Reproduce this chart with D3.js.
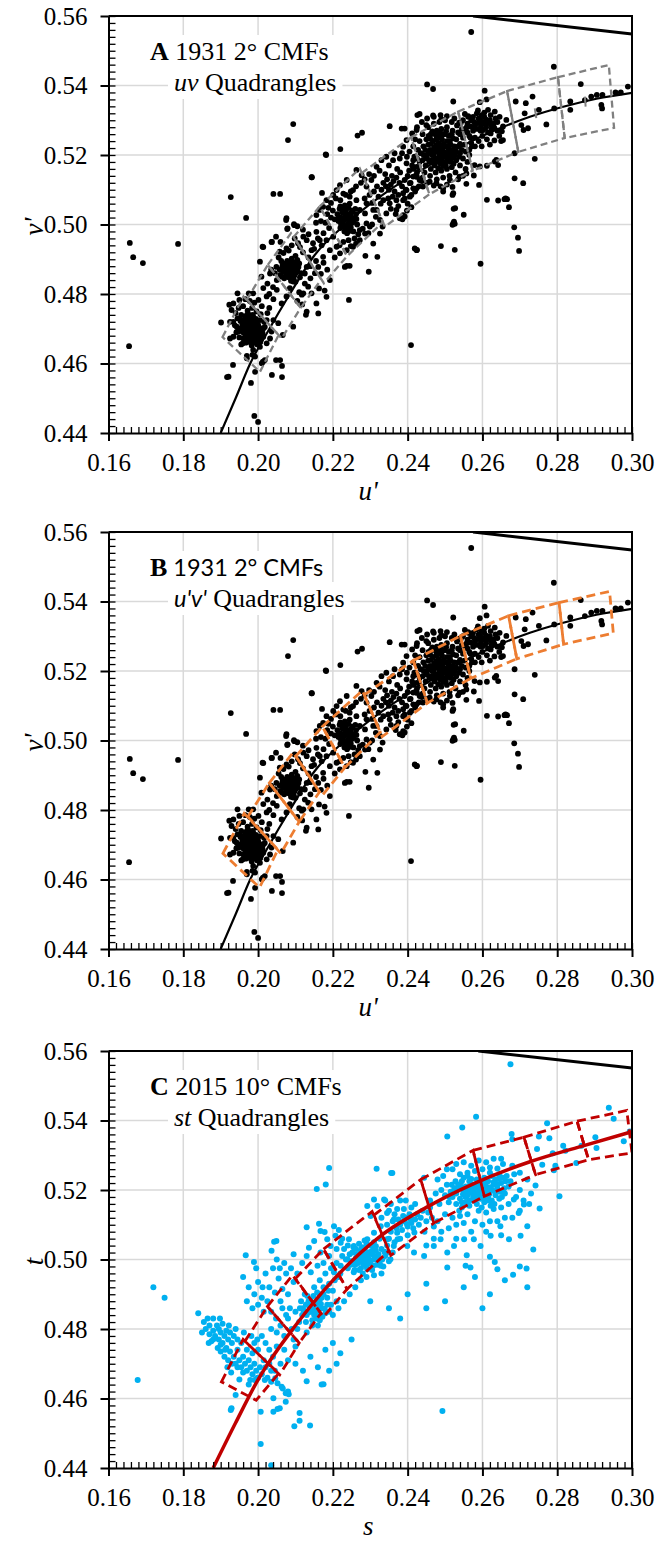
<!DOCTYPE html>
<html>
<head>
<meta charset="utf-8">
<script src="https://cdn.jsdelivr.net/npm/d3@7"></script>
<style>
  body { margin: 0; background: #fff; }
  svg { display: block; }
  svg text { font-family: "Liberation Serif", "Times New Roman", serif; }
</style>
</head>
<body>
<svg id="chart" width="658" height="1546"></svg>
<script>
// ---- data ----
const xTicks = [0.16, 0.18, 0.20, 0.22, 0.24, 0.26, 0.28, 0.30];
const yTicks = [0.44, 0.46, 0.48, 0.50, 0.52, 0.54, 0.56];

const planckUV = [[0.1900,0.4400],[0.1940,0.4500],[0.1979,0.4600],[0.2025,0.4690],[0.2085,0.4800],
  [0.2150,0.4910],[0.2250,0.5015],[0.2350,0.5098],[0.2450,0.5165],[0.2550,0.5228],[0.2656,0.5281],
  [0.2727,0.5310],[0.2816,0.5339],[0.2905,0.5362],[0.3000,0.5379]];
const planckST = [[0.1880,0.4400],[0.1940,0.4530],[0.2002,0.4658],[0.2100,0.4810],[0.2200,0.4940],
  [0.2328,0.5068],[0.2450,0.5150],[0.2580,0.5220],[0.2729,0.5282],[0.2862,0.5325],[0.3000,0.5368]];

// spectrum locus segment at the top right
const locusUV = [[0.2575,0.5600],[0.3000,0.5548]];
const locusST = [[0.2589,0.5600],[0.3000,0.5551]];

// short centre marks seen in panel A (2500 K, 2200 K)
const centreTicksA = [[[0.2740,0.5334],[0.2744,0.5306]], [[0.2874,0.5368],[0.2876,0.5339]]];

// quadrangles, 6500K ... 2200K, four corners each
const quadsA = [
  [[0.1905,0.4676],[0.1961,0.4793],[0.2055,0.4682],[0.2005,0.4576]],
  [[0.1970,0.4784],[0.2026,0.4884],[0.2114,0.4760],[0.2063,0.4672]],
  [[0.2026,0.4884],[0.2088,0.4975],[0.2169,0.4842],[0.2114,0.4760]],
  [[0.2095,0.4964],[0.2165,0.5052],[0.2238,0.4909],[0.2176,0.4831]],
  [[0.2165,0.5052],[0.2272,0.5161],[0.2334,0.5007],[0.2238,0.4909]],
  [[0.2277,0.5148],[0.2409,0.5251],[0.2458,0.5087],[0.2339,0.4994]],
  [[0.2409,0.5251],[0.2535,0.5325],[0.2574,0.5155],[0.2458,0.5087]],
  [[0.2535,0.5325],[0.2666,0.5384],[0.2696,0.5209],[0.2574,0.5155]],
  [[0.2666,0.5384],[0.2802,0.5424],[0.2820,0.5249],[0.2696,0.5209]],
  [[0.2802,0.5424],[0.2938,0.5459],[0.2952,0.5278],[0.2820,0.5249]]
];
const quadsB = [
  [[0.1906,0.4675],[0.1963,0.4790],[0.2053,0.4686],[0.2004,0.4577]],
  [[0.1973,0.4781],[0.2030,0.4878],[0.2110,0.4766],[0.2061,0.4675]],
  [[0.2030,0.4878],[0.2094,0.4966],[0.2164,0.4852],[0.2110,0.4766]],
  [[0.2101,0.4955],[0.2172,0.5040],[0.2232,0.4922],[0.2171,0.4841]],
  [[0.2172,0.5040],[0.2279,0.5144],[0.2327,0.5024],[0.2232,0.4922]],
  [[0.2284,0.5131],[0.2415,0.5230],[0.2453,0.5108],[0.2332,0.5011]],
  [[0.2415,0.5230],[0.2541,0.5301],[0.2569,0.5179],[0.2453,0.5108]],
  [[0.2541,0.5301],[0.2670,0.5359],[0.2692,0.5235],[0.2569,0.5179]],
  [[0.2670,0.5359],[0.2805,0.5397],[0.2817,0.5277],[0.2692,0.5235]],
  [[0.2805,0.5397],[0.2940,0.5429],[0.2950,0.5309],[0.2817,0.5277]]
];
const quadsC = [
  [[0.1902,0.4648],[0.1960,0.4770],[0.2055,0.4672],[0.1995,0.4595]],
  [[0.1965,0.4765],[0.2025,0.4865],[0.2110,0.4760],[0.2058,0.4668]],
  [[0.2025,0.4865],[0.2092,0.4955],[0.2168,0.4845],[0.2110,0.4760]],
  [[0.2100,0.4945],[0.2175,0.5030],[0.2238,0.4915],[0.2175,0.4835]],
  [[0.2175,0.5030],[0.2305,0.5138],[0.2350,0.5025],[0.2238,0.4915]],
  [[0.2310,0.5128],[0.2435,0.5230],[0.2470,0.5105],[0.2355,0.5012]],
  [[0.2435,0.5230],[0.2575,0.5314],[0.2605,0.5182],[0.2470,0.5105]],
  [[0.2575,0.5314],[0.2711,0.5352],[0.2742,0.5244],[0.2605,0.5182]],
  [[0.2711,0.5352],[0.2853,0.5398],[0.2884,0.5287],[0.2742,0.5244]],
  [[0.2853,0.5398],[0.2986,0.5429],[0.3000,0.5307],[0.2884,0.5287]]
];

// light-source chromaticities, 1931 2° (u', v') — panels A and B
const ptsUV = [
  [0.1657,0.4947],[0.1666,0.4906],[0.1692,0.4889],[0.1655,0.4650],[0.1786,0.4944],
  [0.1927,0.5079],[0.1968,0.5019],[0.2080,0.5243],[0.2094,0.5289],[0.2182,0.5200],[0.2144,0.5136],
  [0.2041,0.5088],[0.2059,0.5088],[0.2171,0.5091],[0.2075,0.5013],[0.2078,0.4987],[0.2096,0.5001],
  [0.2037,0.4950],[0.2014,0.4935],
  [0.1990,0.4449],[0.2000,0.4432],[0.1917,0.4561],[0.1921,0.4562],[0.1933,0.4596],[0.1981,0.4544],
  [0.1992,0.4576],[0.2010,0.4601],[0.2013,0.4605],[0.2018,0.4610],[0.2037,0.4567],[0.2048,0.4610],
  [0.2059,0.4610],[0.2064,0.4593],[0.2064,0.4561],[0.1970,0.4622],[0.1985,0.4625],
  [0.1901,0.4718],[0.1925,0.4720],[0.1929,0.4754],[0.1923,0.4769],[0.1934,0.4773],[0.1945,0.4802],
  [0.1950,0.4783],[0.1966,0.4785],[0.1975,0.4802],[0.1987,0.4802],[0.2001,0.4783],[0.2014,0.4817],
  [0.2023,0.4793],[0.2041,0.4785],[0.2050,0.4812],[0.2063,0.4773],[0.2076,0.4793],[0.2085,0.4817],
  [0.2094,0.4836],[0.2117,0.4798],[0.2130,0.4749],[0.2128,0.4740],[0.2094,0.4706],[0.2066,0.4682],
  [0.2041,0.4725],[0.2054,0.4716],[0.2023,0.4725],[0.2014,0.4701],[0.1996,0.4716],[0.1987,0.4735],
  [0.1970,0.4740],[0.1952,0.4730],[0.1943,0.4706],[0.1934,0.4677],[0.1948,0.4692],[0.1961,0.4672],
  [0.1975,0.4701],[0.1987,0.4668],[0.2001,0.4668],[0.2014,0.4677],[0.2023,0.4658],[0.2036,0.4692],
  [0.2032,0.4672],[0.2005,0.4648],[0.1934,0.4720],[0.1959,0.4658],[0.1925,0.4672],[0.1970,0.4615],
  [0.1987,0.4639],[0.1992,0.4620],
  [0.1962,0.4700],[0.1968,0.4690],[0.1975,0.4685],[0.1980,0.4695],[0.1985,0.4688],[0.1990,0.4680],
  [0.1972,0.4675],[0.1978,0.4670],[0.1984,0.4676],[0.1993,0.4672],[0.1998,0.4685],[0.1966,0.4682],
  [0.1970,0.4710],[0.1980,0.4712],[0.1990,0.4705],[0.1997,0.4698],[0.2005,0.4690],[0.2003,0.4678],
  [0.1960,0.4690],[0.1976,0.4662],[0.1988,0.4660],[0.1995,0.4662],[0.2008,0.4670],[0.1982,0.4720],
  [0.1958,0.4712],[0.1964,0.4722],[0.1974,0.4728],[0.2010,0.4700],[0.2000,0.4712],[0.1986,0.4740],
  [0.1994,0.4728],[0.2016,0.4720],[0.1955,0.4740],[0.1945,0.4730],[0.1940,0.4745],[0.1948,0.4760],
  [0.1960,0.4765],[0.1972,0.4752],[0.1984,0.4760],[0.1996,0.4750],[0.2007,0.4742],[0.2025,0.4745],
  [0.2030,0.4760],[0.2010,0.4765],[0.1990,0.4775],[0.1978,0.4780],[0.1938,0.4710],[0.1950,0.4675],
  [0.1942,0.4690],[0.1955,0.4655],
  [0.1963,0.4695],[0.1971,0.4697],[0.1979,0.4703],[0.1987,0.4699],[0.1994,0.4692],[0.2001,0.4684],
  [0.1969,0.4667],[0.1981,0.4682],[0.1989,0.4668],[0.1996,0.4676],[0.2006,0.4662],[0.1974,0.4718],
  [0.1985,0.4727],[0.1992,0.4714],[0.2002,0.4705],[0.2012,0.4688],[0.1957,0.4703],[0.1962,0.4672],
  [0.1967,0.4660],[0.1983,0.4652],[0.1998,0.4655],[0.2011,0.4678],[0.1977,0.4740],[0.1966,0.4733],
  [0.1953,0.4722],[0.2005,0.4725],[0.2018,0.4705],[0.1947,0.4700],[0.1979,0.4692],[0.1991,0.4688],
  [0.2005,0.4893],[0.2012,0.4936],[0.2036,0.4950],[0.2058,0.4922],[0.2076,0.4931],[0.2098,0.4960],
  [0.2107,0.4946],[0.2121,0.4965],[0.2130,0.4955],[0.2076,0.5018],[0.2097,0.4998],[0.2079,0.4989],
  [0.2156,0.4979],[0.2165,0.4955],[0.2147,0.4946],[0.2143,0.4926],[0.2174,0.4907],[0.2161,0.4878],
  [0.2130,0.4878],[0.2125,0.4859],[0.2049,0.4878],[0.2032,0.4859],[0.2009,0.4850],
  [0.2065,0.4880],[0.2072,0.4872],[0.2080,0.4885],[0.2088,0.4878],[0.2095,0.4868],[0.2085,0.4862],
  [0.2075,0.4858],[0.2068,0.4866],[0.2092,0.4890],[0.2100,0.4880],[0.2105,0.4870],[0.2098,0.4855],
  [0.2082,0.4848],[0.2070,0.4845],[0.2060,0.4855],[0.2078,0.4895],[0.2090,0.4902],[0.2110,0.4888],
  [0.2115,0.4860],[0.2062,0.4895],[0.2085,0.4875],[0.2073,0.4888],[0.2095,0.4845],[0.2105,0.4898],
  [0.2058,0.4870],[0.2088,0.4838],[0.2100,0.4835],[0.2112,0.4848],
  [0.2078,0.4870],[0.2083,0.4882],[0.2090,0.4868],[0.2096,0.4875],[0.2070,0.4878],[0.2081,0.4855],
  [0.2093,0.4858],[0.2102,0.4862],[0.2066,0.4887],[0.2087,0.4893],[0.2099,0.4892],[0.2076,0.4865],
  [0.2108,0.4878],[0.2064,0.4850],[0.2092,0.4850],
  [0.2192,0.4840],[0.2163,0.4816],[0.2143,0.4802],[0.2134,0.4821],[0.2121,0.4802],[0.2243,0.4783],
  [0.2296,0.4864],[0.2319,0.4907],[0.2287,0.4910],[0.2237,0.4881],[0.2245,0.4881],[0.2232,0.4878],
  [0.2156,0.4773],[0.2183,0.4792],[0.2161,0.4744],
  [0.2040,0.4820],[0.2050,0.4840],[0.2030,0.4800],[0.2100,0.4910],[0.2120,0.4920],[0.2135,0.4905],
  [0.2150,0.4930],[0.2160,0.4960],[0.2175,0.4975],[0.2190,0.4990],[0.2180,0.5005],[0.2195,0.5020],
  [0.2200,0.5040],[0.2185,0.5030],[0.2140,0.4880],[0.2155,0.4895],[0.2170,0.4940],[0.2045,0.4860],
  [0.2025,0.4830],[0.2035,0.4870],
  [0.2055,0.4905],[0.2068,0.4918],[0.2082,0.4925],[0.2060,0.4950],[0.2090,0.4940],[0.2112,0.4935],
  [0.2120,0.4985],[0.2135,0.4972],[0.2105,0.4995],[0.2048,0.4965],
  [0.2110,0.4805],[0.2125,0.4830],[0.2140,0.4845],[0.2152,0.4860],[0.2168,0.4858],[0.2105,0.4780],
  [0.2118,0.4770],[0.2175,0.4890],[0.2185,0.4870],[0.2178,0.4810],
  [0.2155,0.5005],[0.2168,0.5010],[0.2188,0.5048],[0.2195,0.5062],[0.2208,0.5075],[0.2220,0.5070],
  [0.2235,0.5085],[0.2248,0.5095],[0.2262,0.5110],[0.2275,0.5120],[0.2285,0.5130],[0.2297,0.5145],
  [0.2205,0.4905],[0.2218,0.4940],[0.2228,0.4950],[0.2242,0.4955],[0.2258,0.4960],[0.2268,0.4972],
  [0.2280,0.4988],[0.2295,0.4975],[0.2305,0.5000],[0.2315,0.5022],[0.2262,0.4945],[0.2248,0.4938],
  [0.2156,0.5027],[0.2165,0.5042],[0.2174,0.5051],[0.2183,0.5070],[0.2201,0.5085],[0.2210,0.5099],
  [0.2228,0.5089],[0.2245,0.5080],[0.2254,0.5099],[0.2263,0.5070],[0.2272,0.5042],[0.2286,0.5032],
  [0.2290,0.5061],[0.2308,0.5042],[0.2326,0.5013],[0.2299,0.4994],[0.2286,0.4974],[0.2272,0.4955],
  [0.2254,0.4936],[0.2237,0.4926],[0.2219,0.4917],[0.2192,0.4926],[0.2183,0.4955],[0.2201,0.4965],
  [0.2210,0.4936],[0.2272,0.4984],[0.2290,0.5003],
  [0.2215,0.5010],[0.2222,0.5020],[0.2230,0.5012],[0.2238,0.5025],[0.2245,0.5015],[0.2252,0.5005],
  [0.2240,0.5000],[0.2228,0.4995],[0.2220,0.4990],[0.2235,0.4985],[0.2248,0.4992],[0.2258,0.5018],
  [0.2262,0.5030],[0.2250,0.5035],[0.2235,0.5040],[0.2225,0.5035],[0.2212,0.5030],[0.2242,0.5048],
  [0.2255,0.4980],[0.2265,0.5000],[0.2218,0.5045],[0.2232,0.5055],[0.2245,0.5060],[0.2260,0.5045],
  [0.2205,0.5015],[0.2238,0.4975],[0.2226,0.5005],[0.2244,0.5030],
  [0.2228,0.5012],[0.2236,0.5018],[0.2243,0.5008],[0.2233,0.5028],[0.2222,0.5000],[0.2249,0.5022],
  [0.2256,0.5010],[0.2239,0.4992],[0.2216,0.5022],[0.2229,0.5042],[0.2252,0.5040],[0.2246,0.4982],
  [0.2231,0.4980],[0.2263,0.5016],[0.2220,0.5052],
  [0.2285,0.5075],[0.2298,0.5085],[0.2310,0.5095],[0.2322,0.5080],[0.2318,0.5110],[0.2330,0.5100],
  [0.2305,0.5062],[0.2328,0.5060],[0.2348,0.5075],[0.2360,0.5080],[0.2375,0.5085],[0.2392,0.5075],
  [0.2400,0.5060],[0.2410,0.5085],[0.2420,0.5095],[0.2430,0.5110],[0.2438,0.5125],[0.2412,0.5170],
  [0.2398,0.5195],[0.2385,0.5205],[0.2365,0.5205],[0.2350,0.5170],[0.2325,0.5155],[0.2310,0.5140],
  [0.2355,0.5045],[0.2368,0.5030],[0.2398,0.5040],[0.2410,0.5050],
  [0.2290,0.5109],[0.2303,0.5128],[0.2317,0.5166],[0.2330,0.5185],[0.2343,0.5195],[0.2361,0.5185],
  [0.2379,0.5190],[0.2397,0.5176],[0.2415,0.5185],[0.2424,0.5166],[0.2425,0.5137],[0.2415,0.5104],
  [0.2406,0.5080],[0.2388,0.5070],[0.2370,0.5070],[0.2352,0.5061],[0.2335,0.5070],[0.2317,0.5042],
  [0.2343,0.5032],[0.2370,0.5042],[0.2388,0.5027],[0.2386,0.5020],[0.2333,0.4994],[0.2375,0.5053],
  [0.2424,0.5104],[0.2419,0.4931],[0.2424,0.4926],
  [0.2335,0.5120],[0.2345,0.5130],[0.2355,0.5115],[0.2362,0.5125],[0.2370,0.5135],[0.2378,0.5120],
  [0.2385,0.5110],[0.2392,0.5128],[0.2400,0.5140],[0.2350,0.5100],[0.2365,0.5095],[0.2380,0.5150],
  [0.2340,0.5145],[0.2372,0.5160],[0.2395,0.5100],[0.2408,0.5120],[0.2358,0.5140],[0.2388,0.5090],
  [0.2342,0.5110],[0.2404,0.5155],
  [0.2181,0.5202],[0.2220,0.5217],[0.2266,0.5256],[0.2278,0.5264],[0.2352,0.5283],[0.2384,0.5276],
  [0.2392,0.5276],[0.2426,0.5315],[0.2143,0.5136],[0.2263,0.5157],[0.2277,0.5142],[0.2237,0.5128],
  [0.2219,0.5113],[0.2326,0.4974],[0.2308,0.4945],
  [0.2379,0.5018],[0.2386,0.5015],[0.2392,0.5023],[0.2425,0.4927],[0.2489,0.4938],[0.2526,0.4927],
  [0.2522,0.5004],[0.2524,0.5008],[0.2520,0.4999],[0.2526,0.5002],[0.2523,0.5045],[0.2527,0.5047],
  [0.2550,0.5028],[0.2595,0.4887],[0.2612,0.5071],[0.2642,0.5069],[0.2662,0.5075],[0.2666,0.5073],
  [0.2659,0.5073],[0.2671,0.5050],[0.2686,0.5133],[0.2709,0.5119],[0.2685,0.4992],[0.2695,0.4962],
  [0.2698,0.4924],[0.2740,0.5189],[0.2591,0.5114],[0.2577,0.5141],[0.2557,0.5117],[0.2520,0.5085],
  [0.2633,0.5181],[0.2642,0.5171],[0.2637,0.5186],[0.2612,0.5169],[0.2593,0.5167],[0.2579,0.5171],
  [0.2557,0.5147],[0.2539,0.5138],[0.2513,0.5128],[0.2495,0.5104],[0.2477,0.5119],[0.2459,0.5123],
  [0.2441,0.5109],[0.2432,0.5128],[0.2415,0.5138],[0.2406,0.5119],[0.2397,0.5099],[0.2522,0.5090],
  [0.2495,0.5095],[0.2409,0.4653],[0.2570,0.5554],
  [0.2452,0.5403],[0.2468,0.5390],[0.2522,0.5354],[0.2593,0.5352],[0.2606,0.5385],[0.2611,0.5360],
  [0.2432,0.5318],[0.2468,0.5314],[0.2490,0.5303],[0.2553,0.5318],[0.2562,0.5312],[0.2538,0.5293],
  [0.2615,0.5330],[0.2633,0.5325],[0.2646,0.5310],[0.2664,0.5301],[0.2655,0.5282],[0.2397,0.5243],
  [0.2388,0.5224],[0.2424,0.5272],[0.2450,0.5286],[0.2791,0.5454],[0.2863,0.5404],
  [0.2689,0.5354],[0.2716,0.5349],[0.2734,0.5368],[0.2713,0.5320],[0.2751,0.5330],[0.2771,0.5288],
  [0.2792,0.5334],[0.2835,0.5354],[0.2835,0.5330],[0.2874,0.5358],[0.2891,0.5368],[0.2906,0.5373],
  [0.2921,0.5373],[0.2918,0.5344],[0.2920,0.5334],[0.2956,0.5380],[0.2970,0.5380],[0.2989,0.5397],
  [0.2704,0.5286],[0.2722,0.5277],[0.2710,0.5272],[0.2686,0.5205],[0.2655,0.5243],
  [0.2560,0.5290],[0.2570,0.5300],[0.2580,0.5285],[0.2590,0.5305],[0.2600,0.5295],[0.2610,0.5280],
  [0.2620,0.5300],[0.2630,0.5290],[0.2595,0.5270],[0.2605,0.5310],[0.2615,0.5265],[0.2585,0.5320],
  [0.2575,0.5270],[0.2625,0.5275],[0.2640,0.5270],[0.2600,0.5255],[0.2565,0.5255],[0.2555,0.5270],
  [0.2635,0.5305],[0.2590,0.5240],[0.2612,0.5245],[0.2580,0.5250],[0.2548,0.5300],[0.2645,0.5255],
  [0.2620,0.5230],[0.2598,0.5225],[0.2570,0.5235],
  [0.2588,0.5292],[0.2596,0.5282],[0.2606,0.5290],[0.2616,0.5292],[0.2624,0.5285],[0.2578,0.5295],
  [0.2593,0.5300],[0.2610,0.5302],[0.2602,0.5272],[0.2585,0.5275],[0.2622,0.5262],[0.2632,0.5278],
  [0.2568,0.5282],[0.2598,0.5315],[0.2562,0.5310],
  [0.2575,0.5310],[0.2588,0.5328],[0.2605,0.5322],[0.2622,0.5315],[0.2640,0.5295],[0.2652,0.5268],
  [0.2650,0.5240],[0.2632,0.5242],[0.2580,0.5225],[0.2565,0.5215],
  [0.2470,0.5210],[0.2480,0.5220],[0.2490,0.5215],[0.2500,0.5225],[0.2510,0.5210],[0.2495,0.5200],
  [0.2485,0.5195],[0.2475,0.5190],[0.2465,0.5200],[0.2460,0.5215],[0.2505,0.5240],[0.2515,0.5230],
  [0.2520,0.5215],[0.2525,0.5200],[0.2512,0.5190],[0.2500,0.5180],[0.2488,0.5175],[0.2472,0.5170],
  [0.2458,0.5180],[0.2450,0.5195],[0.2455,0.5230],[0.2468,0.5240],[0.2480,0.5250],[0.2492,0.5245],
  [0.2498,0.5260],[0.2510,0.5255],[0.2530,0.5245],[0.2535,0.5225],[0.2540,0.5205],[0.2530,0.5185],
  [0.2518,0.5165],[0.2505,0.5160],[0.2490,0.5155],[0.2475,0.5150],[0.2462,0.5160],[0.2448,0.5170],
  [0.2440,0.5185],[0.2435,0.5205],[0.2442,0.5225],[0.2450,0.5245],[0.2462,0.5260],[0.2478,0.5270],
  [0.2490,0.5275],[0.2505,0.5280],[0.2520,0.5270],[0.2535,0.5265],[0.2548,0.5250],[0.2552,0.5230],
  [0.2555,0.5210],[0.2548,0.5190],[0.2540,0.5170],[0.2528,0.5150],[0.2512,0.5140],[0.2495,0.5135],
  [0.2478,0.5130],[0.2460,0.5140],[0.2445,0.5150],[0.2430,0.5165],[0.2425,0.5190],[0.2428,0.5215],
  [0.2432,0.5240],[0.2440,0.5260],[0.2455,0.5280],[0.2470,0.5290],[0.2485,0.5295],[0.2500,0.5300],
  [0.2518,0.5295],[0.2532,0.5285],[0.2545,0.5275],[0.2560,0.5265],[0.2482,0.5208],[0.2496,0.5232],
  [0.2508,0.5198],[0.2476,0.5228],[0.2522,0.5248],[0.2465,0.5185],[0.2502,0.5170],[0.2488,0.5262],
  [0.2515,0.5180],[0.2456,0.5255],
  [0.2470,0.5200],[0.2478,0.5212],[0.2487,0.5202],[0.2493,0.5220],[0.2503,0.5205],[0.2508,0.5220],
  [0.2517,0.5205],[0.2483,0.5235],[0.2471,0.5222],[0.2462,0.5232],[0.2500,0.5195],[0.2490,0.5185],
  [0.2480,0.5180],[0.2468,0.5178],[0.2455,0.5205],[0.2447,0.5215],[0.2513,0.5240],[0.2525,0.5225],
  [0.2530,0.5210],[0.2522,0.5192],[0.2507,0.5183],[0.2495,0.5168],[0.2482,0.5162],[0.2460,0.5248],
  [0.2475,0.5258],[0.2490,0.5255],[0.2503,0.5268],[0.2518,0.5260],[0.2540,0.5232],[0.2545,0.5215],
  [0.2537,0.5195],[0.2523,0.5175],[0.2496,0.5210],[0.2486,0.5225],[0.2512,0.5228],[0.2476,0.5245],
  [0.2452,0.5190],[0.2443,0.5200],[0.2466,0.5268],[0.2540,0.5260],
  [0.2405,0.5210],[0.2415,0.5225],[0.2420,0.5245],[0.2412,0.5262],[0.2425,0.5280],[0.2438,0.5295],
  [0.2452,0.5305],[0.2470,0.5310],[0.2488,0.5315],[0.2505,0.5312],[0.2525,0.5305],[0.2542,0.5292],
  [0.2558,0.5280],[0.2568,0.5250],[0.2572,0.5225],[0.2565,0.5200],[0.2560,0.5180],[0.2555,0.5160],
  [0.2548,0.5140],[0.2535,0.5130],[0.2520,0.5108],[0.2505,0.5115],[0.2488,0.5110],[0.2470,0.5112],
  [0.2452,0.5120],[0.2440,0.5135],[0.2425,0.5150],[0.2415,0.5160],[0.2432,0.5180],[0.2418,0.5195]
];

// light-source chromaticities, 2015 10° (s, t) — panel C
const ptsST = [
  [0.1720,0.4920],[0.1750,0.4890],[0.1678,0.4653],
  [0.1840,0.4845],[0.1855,0.4820],[0.1860,0.4800],[0.1870,0.4810],[0.1880,0.4795],[0.1890,0.4810],
  [0.1885,0.4780],[0.1895,0.4770],[0.1900,0.4790],[0.1910,0.4780],[0.1905,0.4760],[0.1915,0.4745],
  [0.1920,0.4770],[0.1930,0.4760],[0.1925,0.4735],[0.1935,0.4720],[0.1945,0.4740],[0.1950,0.4710],
  [0.1940,0.4700],[0.1955,0.4690],[0.1960,0.4720],[0.1965,0.4700],[0.1970,0.4680],[0.1975,0.4710],
  [0.1980,0.4690],[0.1985,0.4670],[0.1990,0.4700],[0.1995,0.4680],[0.2000,0.4660],[0.2005,0.4690],
  [0.2010,0.4670],[0.2015,0.4710],[0.2020,0.4690],[0.2025,0.4660],[0.2030,0.4700],[0.2035,0.4680],
  [0.1880,0.4770],[0.1870,0.4785],[0.1900,0.4735],[0.1910,0.4720],[0.1920,0.4710],
  [0.1865,0.4830],[0.1875,0.4765],[0.1895,0.4800],[0.1905,0.4815],[0.1915,0.4795],[0.1925,0.4790],
  [0.1935,0.4780],[0.1945,0.4770],[0.1955,0.4760],[0.1930,0.4700],[0.1945,0.4690],[0.1960,0.4675],
  [0.1970,0.4740],[0.1985,0.4730],[0.1900,0.4755],[0.1912,0.4740],
  [0.1850,0.4790],[0.1868,0.4760],[0.1892,0.4745],[0.1918,0.4690],[0.1928,0.4675],[0.1950,0.4655],
  [0.1975,0.4640],[0.1880,0.4830],[0.1898,0.4830],[0.1922,0.4810],[0.1940,0.4800],[0.1962,0.4790],
  [0.1982,0.4780],[0.1998,0.4770],
  [0.1960,0.4950],[0.1975,0.4920],[0.1990,0.4900],[0.2000,0.4935],[0.2010,0.4890],[0.2020,0.4960],
  [0.2030,0.4920],[0.2045,0.4905],[0.2040,0.4975],[0.2055,0.4945],[0.2065,0.4915],[0.2060,0.4880],
  [0.2075,0.4960],[0.2080,0.4900],[0.1995,0.4975],[0.2050,0.5000],
  [0.1970,0.4880],[0.1985,0.4860],[0.2000,0.4870],[0.2015,0.4850],[0.2025,0.4880],[0.2035,0.4850],
  [0.2048,0.4830],[0.2012,0.4920],[0.2058,0.4975],[0.2070,0.4990],[0.2088,0.4975],[0.2095,0.4935],
  [0.2105,0.4960],[0.2118,0.4990],[0.2130,0.5010],[0.2095,0.5015],
  [0.1940,0.4610],[0.1929,0.4572],[0.1927,0.4567],[0.1979,0.4653],[0.1991,0.4653],[0.2007,0.4562],
  [0.2007,0.4469],[0.2035,0.4408],[0.2041,0.4601],[0.2041,0.4562],[0.2058,0.4572],[0.2052,0.4570],
  [0.2074,0.4591],[0.2080,0.4620],[0.2063,0.4634],[0.2066,0.4629],[0.2097,0.4520],[0.2111,0.4558],
  [0.2111,0.4536],[0.2139,0.4522],[0.2175,0.4641],[0.2493,0.4564],[0.2052,0.4644],[0.2035,0.4648],
  [0.2018,0.4653],[0.1996,0.4658],[0.2046,0.4658],[0.2074,0.4615],[0.2082,0.4612],
  [0.2050,0.4790],[0.2060,0.4810],[0.2070,0.4780],[0.2080,0.4830],[0.2090,0.4800],[0.2100,0.4850],
  [0.2110,0.4820],[0.2120,0.4860],[0.2130,0.4840],[0.2140,0.4870],[0.2150,0.4850],[0.2160,0.4880],
  [0.2170,0.4860],[0.2155,0.4830],[0.2145,0.4810],[0.2135,0.4880],[0.2125,0.4900],[0.2165,0.4900],
  [0.2175,0.4920],[0.2185,0.4890],[0.2195,0.4870],[0.2180,0.4845],[0.2200,0.4910],[0.2210,0.4880],
  [0.2190,0.4930],[0.2115,0.4880],[0.2105,0.4800],[0.2095,0.4770],[0.2085,0.4860],[0.2075,0.4840],
  [0.2065,0.4860],[0.2148,0.4868],[0.2158,0.4858],[0.2142,0.4850],[0.2162,0.4845],[0.2152,0.4875],
  [0.2138,0.4862],[0.2168,0.4872],[0.2128,0.4820],[0.2118,0.4840],[0.2172,0.4835],[0.2188,0.4910],
  [0.2205,0.4940],[0.2215,0.4950],[0.2100,0.4750],[0.2130,0.4790],[0.2160,0.4810],
  [0.2145,0.4858],[0.2155,0.4865],[0.2150,0.4840],[0.2160,0.4855],[0.2135,0.4848],[0.2165,0.4885],
  [0.2140,0.4885],[0.2128,0.4870],[0.2178,0.4858],[0.2170,0.4890],[0.2122,0.4852],[0.2132,0.4895],
  [0.2185,0.4870],[0.2112,0.4860],[0.2175,0.4900],[0.2158,0.4905],[0.2148,0.4895],[0.2190,0.4850],
  [0.2145,0.4825],[0.2165,0.4825],
  [0.2040,0.4720],[0.2050,0.4750],[0.2060,0.4700],[0.2070,0.4740],[0.2045,0.4680],[0.2080,0.4710],
  [0.2030,0.4740],[0.2020,0.4760],[0.2000,0.4740],[0.2010,0.4780],[0.2035,0.4800],[0.1990,0.4760],
  [0.2100,0.4700],[0.2120,0.4680],[0.2140,0.4720],[0.2160,0.4690],[0.2180,0.4740],[0.2130,0.4650],
  [0.2170,0.4640],[0.2200,0.4760],[0.2220,0.4730],[0.2250,0.4770],[0.2210,0.4700],[0.2190,0.4680],
  [0.2400,0.4900],[0.2450,0.4930],[0.2500,0.4880],[0.2550,0.4920],[0.2580,0.4950],[0.2600,0.4860],
  [0.2620,0.4900],[0.2660,0.4940],[0.2700,0.4980],[0.2720,0.4920],[0.2450,0.4860],[0.2350,0.4860],
  [0.2380,0.4830],[0.2300,0.4880],
  [0.2150,0.4920],[0.2165,0.4940],[0.2180,0.4960],[0.2195,0.4975],[0.2210,0.4990],[0.2225,0.5010],
  [0.2240,0.5040],[0.2225,0.5060],[0.2210,0.5030],[0.2190,0.5010],[0.2175,0.4990],[0.2200,0.4840],
  [0.2215,0.4860],[0.2230,0.4880],[0.2245,0.4900],[0.2260,0.4920],[0.2275,0.4940],[0.2290,0.4950],
  [0.2310,0.4955],[0.2330,0.4960],[0.2360,0.5020],[0.2365,0.5050],[0.2355,0.5160],[0.2340,0.5170],
  [0.2330,0.5120],[0.2380,0.5170],[0.2395,0.5170],
  [0.2190,0.5263],[0.2181,0.5216],[0.2157,0.5203],[0.2317,0.5261],[0.2356,0.5249],[0.1967,0.5012],
  [0.1989,0.4993],[0.2043,0.5051],[0.2049,0.5053],[0.2036,0.5025],[0.2130,0.5093],[0.2163,0.5103],
  [0.2167,0.5082],[0.2178,0.5079],[0.2203,0.5096],[0.2216,0.5085],[0.2185,0.5058],[0.2207,0.5068],
  [0.2150,0.5053],[0.2136,0.5034],[0.2167,0.5020],[0.2194,0.5039],[0.2221,0.5048],[0.2243,0.5058],
  [0.2256,0.5039],[0.2274,0.5020],[0.2292,0.5058],[0.2310,0.5077],[0.2328,0.5096],[0.2301,0.5125],
  [0.2319,0.5154],[0.2337,0.5173],[0.2310,0.5173],[0.2292,0.5154],[0.2345,0.5134],[0.2363,0.5115],
  [0.2345,0.5058],[0.2363,0.5039],[0.2372,0.5077],[0.2239,0.5001],[0.2221,0.4982],[0.2203,0.4963],
  [0.2256,0.4963],[0.2292,0.4972],[0.2328,0.4982],[0.2354,0.5001],[0.2159,0.4982],[0.2141,0.4963],
  [0.2260,0.5000],[0.2270,0.5010],[0.2280,0.4995],[0.2290,0.5005],[0.2300,0.4990],[0.2310,0.5000],
  [0.2295,0.5020],[0.2285,0.5030],[0.2275,0.5025],[0.2265,0.5015],[0.2305,0.5015],[0.2315,0.5025],
  [0.2320,0.5005],[0.2325,0.4990],[0.2290,0.4980],[0.2275,0.4975],[0.2260,0.4985],[0.2250,0.4995],
  [0.2245,0.5015],[0.2255,0.5035],[0.2270,0.5045],[0.2300,0.5040],[0.2310,0.5050],[0.2330,0.5030],
  [0.2340,0.5010],[0.2335,0.4980],[0.2305,0.4970],[0.2280,0.4960],[0.2240,0.4975],[0.2235,0.5000],
  [0.2292,0.5008],[0.2282,0.5012],[0.2298,0.4998],[0.2288,0.4992],[0.2272,0.5002],[0.2308,0.5030],
  [0.2262,0.5030],[0.2318,0.4985],[0.2345,0.5040],[0.2350,0.5060],[0.2230,0.5030],[0.2220,0.4960],
  [0.2350,0.4995],[0.2325,0.5060],[0.2285,0.5055],
  [0.2278,0.5005],[0.2288,0.5015],[0.2296,0.5002],[0.2302,0.5022],[0.2312,0.5010],[0.2268,0.4990],
  [0.2283,0.4985],[0.2297,0.4990],[0.2315,0.5038],[0.2278,0.5035],[0.2262,0.5005],[0.2252,0.5020],
  [0.2322,0.5015],[0.2290,0.5045],[0.2308,0.4982],[0.2270,0.4970],[0.2248,0.4985],[0.2332,0.5000],
  [0.2338,0.5022],[0.2258,0.4970],
  [0.2380,0.5100],[0.2390,0.5110],[0.2400,0.5095],[0.2410,0.5105],[0.2395,0.5120],[0.2405,0.5130],
  [0.2385,0.5085],[0.2375,0.5115],[0.2415,0.5090],[0.2420,0.5115],[0.2430,0.5100],[0.2425,0.5130],
  [0.2435,0.5120],[0.2440,0.5140],[0.2370,0.5090],[0.2365,0.5130],[0.2360,0.5110],[0.2400,0.5070],
  [0.2410,0.5150],[0.2390,0.5145],[0.2450,0.5110],[0.2455,0.5135],[0.2460,0.5150],[0.2445,0.5080],
  [0.2380,0.5060],[0.2355,0.5080],[0.2420,0.5160],[0.2398,0.5102],[0.2408,0.5115],[0.2388,0.5125],
  [0.2418,0.5078],[0.2372,0.5145],[0.2465,0.5120],[0.2470,0.5095],[0.2350,0.5140],[0.2345,0.5100],
  [0.2450,0.5040],[0.2470,0.5060],[0.2490,0.5080],[0.2510,0.5090],[0.2530,0.5100],[0.2550,0.5105],
  [0.2600,0.5100],[0.2640,0.5110],[0.2680,0.5120],[0.2650,0.5070],[0.2610,0.5080],[0.2570,0.5080],
  [0.2530,0.5060],[0.2480,0.5110],[0.2460,0.5170],[0.2475,0.5190],[0.2480,0.5230],[0.2505,0.5260],
  [0.2530,0.5275],[0.2590,0.5285],[0.2650,0.5290],[0.2680,0.5270],[0.2700,0.5250],[0.2720,0.5230],
  [0.2730,0.5190],[0.2725,0.5160],
  [0.2675,0.5562],[0.2583,0.5411],[0.2546,0.5380],[0.2506,0.5354],[0.2938,0.5437],[0.2951,0.5405],
  [0.2994,0.5368],[0.2978,0.5340],[0.2905,0.5321],[0.2902,0.5352],[0.2865,0.5327],[0.2822,0.5313],
  [0.2816,0.5327],[0.2773,0.5392],[0.2779,0.5349],[0.2751,0.5354],[0.2678,0.5361],[0.2680,0.5346],
  [0.2746,0.5318],[0.2788,0.5306],[0.2851,0.5278],[0.2806,0.5182],[0.2753,0.5147],[0.2736,0.5029],
  [0.2718,0.4974],[0.2682,0.4956],[0.2620,0.5008],[0.2633,0.4993],[0.2558,0.5012],[0.2568,0.4977],
  [0.2555,0.4982],[0.2640,0.4972],[0.2506,0.4977],[0.2359,0.5249],[0.2444,0.5235],[0.2742,0.5213],
  [0.2791,0.5257],[0.2760,0.5273],[0.2795,0.5270],
  [0.2711,0.5158],[0.2697,0.5134],[0.2684,0.5173],[0.2720,0.5096],[0.2702,0.5068],[0.2671,0.5058],
  [0.2648,0.5096],[0.2622,0.5068],[0.2595,0.5039],[0.2577,0.5058],[0.2551,0.5058],[0.2524,0.5039],
  [0.2506,0.5020],[0.2488,0.5058],[0.2470,0.5039],[0.2444,0.5010],[0.2417,0.5020],[0.2399,0.5039],
  [0.2373,0.5058],[0.2346,0.5020],
  [0.2520,0.5180],[0.2530,0.5190],[0.2540,0.5175],[0.2550,0.5195],[0.2560,0.5185],[0.2570,0.5200],
  [0.2580,0.5190],[0.2590,0.5205],[0.2600,0.5195],[0.2610,0.5210],[0.2620,0.5200],[0.2630,0.5215],
  [0.2640,0.5205],[0.2650,0.5220],[0.2525,0.5205],[0.2535,0.5215],[0.2545,0.5225],[0.2555,0.5210],
  [0.2565,0.5225],[0.2575,0.5215],[0.2585,0.5230],[0.2595,0.5220],[0.2605,0.5235],[0.2615,0.5225],
  [0.2625,0.5240],[0.2635,0.5230],[0.2645,0.5245],[0.2655,0.5235],[0.2530,0.5160],[0.2545,0.5150],
  [0.2555,0.5165],[0.2565,0.5155],[0.2575,0.5170],[0.2585,0.5160],[0.2595,0.5175],[0.2605,0.5165],
  [0.2615,0.5180],[0.2625,0.5170],[0.2635,0.5185],[0.2645,0.5175],[0.2660,0.5190],[0.2670,0.5210],
  [0.2665,0.5240],[0.2675,0.5225],[0.2510,0.5165],[0.2515,0.5195],[0.2505,0.5215],[0.2500,0.5185],
  [0.2540,0.5245],[0.2560,0.5250],[0.2580,0.5255],[0.2600,0.5260],[0.2620,0.5265],[0.2640,0.5262],
  [0.2570,0.5270],[0.2610,0.5280],[0.2590,0.5140],[0.2610,0.5135],[0.2630,0.5145],[0.2650,0.5150],
  [0.2670,0.5160],[0.2560,0.5130],[0.2540,0.5125],[0.2690,0.5180],[0.2700,0.5200],[0.2685,0.5245],
  [0.2655,0.5275],[0.2630,0.5290],[0.2550,0.5280],[0.2520,0.5260],[0.2495,0.5240],[0.2490,0.5200],
  [0.2485,0.5160],[0.2500,0.5130],[0.2520,0.5120],[0.2580,0.5110],[0.2620,0.5110],[0.2660,0.5120],
  [0.2700,0.5140],[0.2710,0.5170],[0.2568,0.5192],[0.2578,0.5202],[0.2588,0.5212],[0.2598,0.5182],
  [0.2608,0.5192],[0.2618,0.5188],[0.2558,0.5198],[0.2548,0.5188],[0.2628,0.5198],[0.2638,0.5195],
  [0.2572,0.5195],[0.2582,0.5185],[0.2592,0.5195],[0.2602,0.5205],[0.2612,0.5198],[0.2622,0.5208],
  [0.2562,0.5208],[0.2552,0.5200],[0.2542,0.5210],[0.2532,0.5200],[0.2575,0.5180],[0.2585,0.5175],
  [0.2595,0.5185],[0.2605,0.5178],[0.2615,0.5170],[0.2565,0.5170],[0.2555,0.5180],[0.2545,0.5165],
  [0.2580,0.5215],[0.2590,0.5225],[0.2600,0.5218],[0.2610,0.5222],[0.2570,0.5232],[0.2560,0.5240],
  [0.2550,0.5235],[0.2620,0.5250],[0.2630,0.5222],[0.2640,0.5215],[0.2648,0.5195],[0.2652,0.5180],
  [0.2632,0.5160],[0.2622,0.5155],[0.2528,0.5225],[0.2518,0.5215],[0.2512,0.5180],[0.2538,0.5140],
  [0.2598,0.5150],[0.2658,0.5205],[0.2662,0.5225],[0.2642,0.5232]
];

// ---- layout / style ----
const svg = d3.select("#chart");
const L = 108.5, R = 632, H = 417;
const serif = "'Liberation Serif','Times New Roman',serif";
const sans = "Lato,'Noto Sans',sans-serif";

const panels = [
  { top: 16, pts: ptsUV, ptColor: "#000", ptR: 2.9, curve: planckUV, curveColor: "#000", curveW: 2.2,
    locus: locusUV, quads: quadsA, quadColor: "#808080", quadW: 2.3, dash: "7,4", ticks: centreTicksA,
    xLabel: "u'", yLabel: "v'", tag: "A" },
  { top: 532, pts: ptsUV, ptColor: "#000", ptR: 2.9, curve: planckUV, curveColor: "#000", curveW: 2.2,
    locus: locusUV, quads: quadsB, quadColor: "#ED7D31", quadW: 2.8, dash: "9,5", ticks: [],
    xLabel: "u'", yLabel: "v'", tag: "B" },
  { top: 1051, pts: ptsST, ptColor: "#00B0F0", ptR: 3.0, curve: planckST, curveColor: "#C00000", curveW: 3.5,
    locus: locusST, quads: quadsC, quadColor: "#C00000", quadW: 2.8, dash: "9,5", ticks: [],
    xLabel: "s", yLabel: "t", tag: "C" }
];

panels.forEach((p, i) => drawPanel(p, i));

function drawPanel(p, i) {
  const g = svg.append("g").attr("transform", `translate(0,${p.top})`);
  const x = d3.scaleLinear().domain([0.16, 0.30]).range([L, R]);
  const y = d3.scaleLinear().domain([0.44, 0.56]).range([H, 0]);

  // grid
  g.append("g").selectAll("line").data(xTicks.slice(1, -1)).join("line")
    .attr("x1", d => x(d)).attr("x2", d => x(d)).attr("y1", 0).attr("y2", H)
    .attr("stroke", "#d9d9d9").attr("stroke-width", 1.5);
  g.append("g").selectAll("line").data(yTicks.slice(1, -1)).join("line")
    .attr("x1", L).attr("x2", R).attr("y1", d => y(d)).attr("y2", d => y(d))
    .attr("stroke", "#d9d9d9").attr("stroke-width", 1.5);

  const clipId = "clip" + i;
  g.append("clipPath").attr("id", clipId).append("rect")
    .attr("x", L).attr("y", 0).attr("width", R - L).attr("height", H);
  const plot = g.append("g").attr("clip-path", `url(#${clipId})`);

  // points
  plot.append("g").selectAll("circle").data(p.pts).join("circle")
    .attr("cx", d => x(d[0])).attr("cy", d => y(d[1])).attr("r", p.ptR)
    .attr("fill", p.ptColor);

  const line = d3.line().x(d => x(d[0])).y(d => y(d[1]));

  // locus curve
  plot.append("path").datum(p.curve)
    .attr("d", line.curve(d3.curveMonotoneX))
    .attr("fill", "none").attr("stroke", p.curveColor).attr("stroke-width", p.curveW);

  // quadrangles
  plot.append("g").selectAll("path").data(p.quads).join("path")
    .attr("d", d => d3.line().x(c => x(c[0])).y(c => y(c[1])).curve(d3.curveLinearClosed)(d))
    .attr("fill", "none").attr("stroke", p.quadColor).attr("stroke-width", p.quadW)
    .attr("stroke-dasharray", p.dash);

  plot.append("g").selectAll("path").data(p.ticks).join("path")
    .attr("d", d => d3.line().x(c => x(c[0])).y(c => y(c[1])).curve(d3.curveLinear)(d))
    .attr("fill", "none").attr("stroke", p.quadColor).attr("stroke-width", 2);

  // spectrum locus
  plot.append("path").datum(p.locus)
    .attr("d", d3.line().x(d => x(d[0])).y(d => y(d[1])))
    .attr("fill", "none").attr("stroke", "#000").attr("stroke-width", 3);

  // annotation
  const ann = g.append("g").style("font-family", serif).style("font-size", "26px").attr("fill", "#000");
  const t1 = ann.append("text").attr("x", 150).attr("y", 44);
  const t2 = ann.append("text").attr("x", 174).attr("y", 75);
  if (p.tag === "A") {
    t1.append("tspan").attr("font-weight", "bold").text("A");
    t1.append("tspan").text(" 1931 2° CMFs");
    t2.append("tspan").attr("font-style", "italic").text("uv");
    t2.append("tspan").text(" Quadrangles");
  } else if (p.tag === "B") {
    t1.append("tspan").attr("font-weight", "bold").text("B");
    t1.append("tspan").style("font-family", sans).style("font-size", "23.5px").text(" 1931 2° CMFs");
    t2.append("tspan").style("font-family", sans).attr("font-style", "italic").style("font-size", "23.5px").text("u'v'");
    t2.append("tspan").text(" Quadrangles");
  } else {
    t1.append("tspan").attr("font-weight", "bold").text("C");
    t1.append("tspan").text(" 2015 10° CMFs");
    t2.append("tspan").attr("font-style", "italic").text("st");
    t2.append("tspan").text(" Quadrangles");
  }
  [t1, t2].forEach(t => {
    t.style("font-family", serif);
    const b = t.node().getBBox();
    ann.insert("rect", "text").attr("x", b.x - 6).attr("y", b.y - 2)
      .attr("width", b.width + 12).attr("height", b.height + 4).attr("fill", "#fff");
  });

  // axes
  const minorX = d3.range(0.16, 0.3001, 0.002);
  const minorY = d3.range(0.44, 0.5601, 0.002);
  const axG = g.append("g");

  axG.append("g").attr("transform", `translate(0,${H})`)
    .call(d3.axisBottom(x).tickValues(minorX).tickSize(-6).tickFormat(""))
    .call(a => a.select(".domain").remove())
    .call(a => a.selectAll("line").attr("stroke-width", 1.3));
  axG.append("g").attr("transform", `translate(${L},0)`)
    .call(d3.axisLeft(y).tickValues(minorY).tickSize(-7).tickFormat(""))
    .call(a => a.select(".domain").remove())
    .call(a => a.selectAll("line").attr("stroke-width", 1.3));

  const styleAxis = a => {
    a.select(".domain").attr("stroke-width", 2);
    a.selectAll("line").attr("stroke-width", 2);
    a.selectAll("text").style("font-family", serif).style("font-size", "25px").attr("fill", "#000");
  };
  axG.append("g").attr("transform", `translate(0,${H})`)
    .call(d3.axisBottom(x).tickValues(xTicks).tickSize(8).tickSizeOuter(0).tickPadding(12)
      .tickFormat(d3.format(".2f")))
    .call(styleAxis);
  axG.append("g").attr("transform", `translate(${L},0)`)
    .call(d3.axisLeft(y).tickValues(yTicks).tickSize(8).tickSizeOuter(0).tickPadding(13)
      .tickFormat(d3.format(".2f")))
    .call(styleAxis);

  // frame top / right
  g.append("path").attr("d", `M${L},0H${R}V${H}`)
    .attr("fill", "none").attr("stroke", "#000").attr("stroke-width", 2);

  // axis titles
  g.append("text").attr("x", (L + R) / 2 - 2).attr("y", H + 67)
    .attr("text-anchor", "middle").style("font-family", serif).attr("font-style", "italic")
    .style("font-size", "27px").text(p.xLabel);
  g.append("text").attr("transform", `translate(43,${H / 2 + 2}) rotate(-90)`)
    .attr("text-anchor", "middle").style("font-family", serif).attr("font-style", "italic")
    .style("font-size", "27px").text(p.yLabel);
}
</script>
</body>
</html>
